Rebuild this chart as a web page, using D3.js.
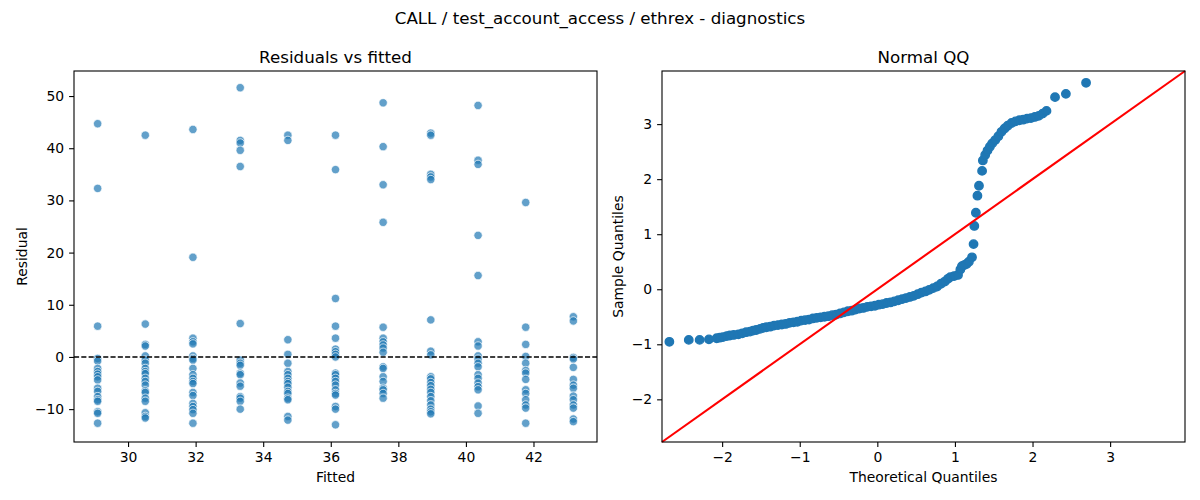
<!DOCTYPE html>
<html>
<head>
<meta charset="utf-8">
<script src="https://cdn.jsdelivr.net/npm/d3@7"></script>
<style>
  body { margin: 0; background: #fff; }
  svg { font-family: "DejaVu Sans", sans-serif; }
</style>
</head>
<body>
<div id="chart"></div>
<script>
// fitted value of each group (x of the residual plot)
var fitted = [29.10, 30.51, 31.92, 33.32, 34.73, 36.14, 37.55, 38.96, 40.36, 41.77, 43.18];

// residuals read for each fitted group
var residuals = [
  [44.7, 32.3, 5.9, -0.3, -0.8, -2.2, -2.8, -3.3, -3.8, -4.4, -6.0, -6.6, -7.6, -8.2, -8.5, -10.5, -10.8, -12.7],
  [42.5, 6.3, 2.4, 2.1, 0.2, -0.6, -1.2, -2.2, -2.8, -3.2, -4.1, -4.7, -5.4, -6.5, -6.8, -7.9, -8.5, -10.7, -11.4, -11.7],
  [43.6, 19.1, 3.6, 2.9, 2.5, 0.2, -0.3, -0.6, -2.2, -3.4, -4.1, -4.7, -5.1, -6.8, -7.4, -8.9, -9.5, -10.1, -10.8, -12.7],
  [51.6, 41.5, 41.0, 39.6, 36.5, 6.4, -0.6, -1.2, -1.6, -3.1, -3.4, -5.0, -5.6, -7.6, -7.9, -8.5, -10.0],
  [42.5, 41.5, 3.3, 0.5, -1.2, -2.8, -3.4, -4.1, -4.7, -5.1, -5.8, -6.6, -7.0, -7.9, -8.2, -11.4, -12.1],
  [42.5, 35.9, 11.2, 5.9, 3.6, 1.5, 1.0, 0.5, 0.0, -3.1, -3.4, -4.1, -4.7, -5.4, -6.3, -7.0, -7.3, -9.5, -10.0, -13.0],
  [48.7, 40.3, 33.0, 25.8, 5.7, 3.6, 2.9, 2.3, 1.7, 0.9, -1.9, -2.2, -3.8, -4.7, -6.0, -6.3, -7.0, -7.9],
  [42.9, 42.5, 35.0, 34.5, 34.0, 7.1, 1.1, 0.4, -3.8, -4.2, -4.9, -5.5, -6.2, -6.8, -7.6, -8.4, -9.2, -10.0, -10.5, -10.9],
  [48.2, 37.7, 36.9, 23.3, 15.6, 2.9, 2.1, 0.2, -0.4, -1.2, -1.9, -3.4, -4.1, -5.0, -5.7, -6.3, -9.4, -10.8],
  [29.6, 5.7, 2.4, 0.1, -1.2, -2.6, -3.1, -4.3, -6.3, -7.0, -8.2, -9.2, -9.8, -12.7],
  [7.7, 6.9, -0.1, -0.4, -2.0, -4.3, -5.4, -6.0, -7.5, -8.2, -9.2, -9.8, -11.9, -12.4]
];

// normal QQ points
var qqTheoretical = [-2.68, -2.43, -2.29, -2.17, -2.07, -2.03, -1.99, -1.94, -1.90, -1.85, -1.79, -1.74,
  -1.69, -1.64, -1.60, -1.56, -1.51, -1.47, -1.43, -1.38, -1.33, -1.28, -1.23, -1.18, -1.13, -1.08,
  -1.03, -0.98, -0.93, -0.88, -0.83, -0.78, -0.73, -0.68, -0.63, -0.58, -0.53, -0.48, -0.43, -0.38,
  -0.33, -0.28, -0.23, -0.18, -0.13, -0.08, -0.03, 0.02, 0.07, 0.12, 0.17, 0.22, 0.27, 0.32, 0.37,
  0.42, 0.47, 0.52, 0.57, 0.62, 0.67, 0.72, 0.77, 0.82, 0.87, 0.91, 0.94, 0.99, 1.04, 1.07, 1.09,
  1.12, 1.15, 1.18, 1.22, 1.24, 1.25, 1.27, 1.29, 1.31, 1.35, 1.36, 1.39, 1.42, 1.45, 1.48, 1.52,
  1.56, 1.60, 1.64, 1.68, 1.73, 1.78, 1.83, 1.88, 1.93, 1.98, 2.03, 2.08, 2.13, 2.18, 2.29, 2.43, 2.69];
var qqSample = [-0.955, -0.92, -0.92, -0.91, -0.89, -0.88, -0.87, -0.85, -0.84, -0.83, -0.82, -0.80,
  -0.78, -0.77, -0.75, -0.74, -0.72, -0.70, -0.69, -0.68, -0.66, -0.65, -0.64, -0.63, -0.61, -0.60,
  -0.59, -0.57, -0.56, -0.55, -0.53, -0.52, -0.51, -0.50, -0.49, -0.47, -0.46, -0.44, -0.42, -0.40,
  -0.39, -0.37, -0.35, -0.34, -0.32, -0.31, -0.30, -0.28, -0.27, -0.25, -0.24, -0.22, -0.20, -0.18, -0.16,
  -0.14, -0.12, -0.09, -0.06, -0.04, -0.01, 0.02, 0.05, 0.10, 0.14, 0.19, 0.22, 0.24, 0.26, 0.36, 0.42,
  0.44, 0.46, 0.50, 0.58, 0.82, 1.15, 1.39, 1.70, 1.88, 2.15, 2.34, 2.44, 2.52, 2.59, 2.65, 2.71,
  2.78, 2.86, 2.92, 2.97, 3.02, 3.05, 3.07, 3.08, 3.10, 3.11, 3.13, 3.15, 3.19, 3.24, 3.49, 3.55, 3.75];

var residTicks = [-10, 0, 10, 20, 30, 40, 50];
var fittedTicks = [30, 32, 34, 36, 38, 40, 42];
var qqTicks = [-2, -1, 0, 1, 2, 3];

var W = 1200, H = 500;
var svg = d3.select("#chart").append("svg")
  .attr("width", W).attr("height", H);

var blue = "#1f77b4";
var intFmt = d3.format("d");

// suptitle
svg.append("text")
  .attr("x", 600).attr("y", 24)
  .attr("text-anchor", "middle")
  .style("font-size", "16.7px")
  .text("CALL / test_account_access / ethrex - diagnostics");

function panel(left, top, w, h, title, xlabel, ylabel, ylabelX) {
  var g = svg.append("g").attr("transform", "translate(" + left + "," + top + ")");
  g.append("text")
    .attr("x", w / 2).attr("y", -8.5)
    .attr("text-anchor", "middle")
    .style("font-size", "16.7px")
    .text(title);
  g.append("text")
    .attr("x", w / 2).attr("y", h + 40)
    .attr("text-anchor", "middle")
    .style("font-size", "13.9px")
    .text(xlabel);
  g.append("text")
    .attr("transform", "translate(" + ylabelX + "," + (h / 2) + ") rotate(-90)")
    .attr("text-anchor", "middle")
    .style("font-size", "13.9px")
    .text(ylabel);
  return g;
}

function styleAxis(sel) {
  sel.select(".domain").remove();
  sel.selectAll(".tick line").attr("stroke", "#000").attr("stroke-width", 1.1);
  sel.selectAll(".tick text").attr("fill", "#000").style("font-size", "13.9px")
    .style("font-family", "DejaVu Sans, sans-serif");
}

// ---- left: residuals vs fitted
var lw = 523, lh = 371;
var g1 = panel(74, 71, lw, lh, "Residuals vs fitted", "Fitted", "Residual", -47);

var x1 = d3.scaleLinear().domain([28.40, 43.88]).range([0, lw]);
var y1 = d3.scaleLinear().domain([-16.3, 54.8]).range([lh, 0]);

g1.append("g").attr("transform", "translate(0," + lh + ")")
  .call(d3.axisBottom(x1).tickValues(fittedTicks).tickFormat(intFmt).tickSize(4.9).tickPadding(4.9))
  .call(styleAxis);
g1.append("g")
  .call(d3.axisLeft(y1).tickValues(residTicks).tickFormat(intFmt).tickSize(4.9).tickPadding(4.9))
  .call(styleAxis);

var pts = [];
fitted.forEach(function(f, i) {
  residuals[i].forEach(function(r) { pts.push({f: f, r: r}); });
});

g1.selectAll(".dot").data(pts).join("circle")
  .attr("class", "dot")
  .attr("cx", function(d) { return x1(d.f); })
  .attr("cy", function(d) { return y1(d.r); })
  .attr("r", 4.2)
  .attr("fill", blue)
  .attr("fill-opacity", 0.7)
  .attr("stroke", "#fff")
  .attr("stroke-width", 0.7);

g1.append("line")
  .attr("x1", 0).attr("x2", lw)
  .attr("y1", y1(0)).attr("y2", y1(0))
  .attr("stroke", "#000").attr("stroke-width", 1.4)
  .attr("stroke-dasharray", "5.1,2.2");

g1.append("rect").attr("width", lw).attr("height", lh)
  .attr("fill", "none").attr("stroke", "#000").attr("stroke-width", 1.1);

// ---- right: normal QQ
var g2 = panel(662, 71, lw, lh, "Normal QQ", "Theoretical Quantiles", "Sample Quantiles", -39);

var qqDomain = [-2.775, 3.965];
var x2 = d3.scaleLinear().domain(qqDomain).range([0, lw]);
var y2 = d3.scaleLinear().domain(qqDomain).range([lh, 0]);

g2.append("g").attr("transform", "translate(0," + lh + ")")
  .call(d3.axisBottom(x2).tickValues(qqTicks).tickFormat(intFmt).tickSize(4.9).tickPadding(4.9))
  .call(styleAxis);
g2.append("g")
  .call(d3.axisLeft(y2).tickValues(qqTicks).tickFormat(intFmt).tickSize(4.9).tickPadding(4.9))
  .call(styleAxis);

var qq = qqTheoretical.map(function(t, i) { return {t: t, s: qqSample[i]}; });

g2.selectAll(".qq").data(qq).join("circle")
  .attr("class", "qq")
  .attr("cx", function(d) { return x2(d.t); })
  .attr("cy", function(d) { return y2(d.s); })
  .attr("r", 4.2)
  .attr("fill", blue)
  .attr("stroke", blue)
  .attr("stroke-width", 1.4);

// 45 degree reference line
g2.append("line")
  .attr("x1", x2(qqDomain[0])).attr("y1", y2(qqDomain[0]))
  .attr("x2", x2(qqDomain[1])).attr("y2", y2(qqDomain[1]))
  .attr("stroke", "#ff0000").attr("stroke-width", 2.1);

g2.append("rect").attr("width", lw).attr("height", lh)
  .attr("fill", "none").attr("stroke", "#000").attr("stroke-width", 1.1);
</script>
</body>
</html>
